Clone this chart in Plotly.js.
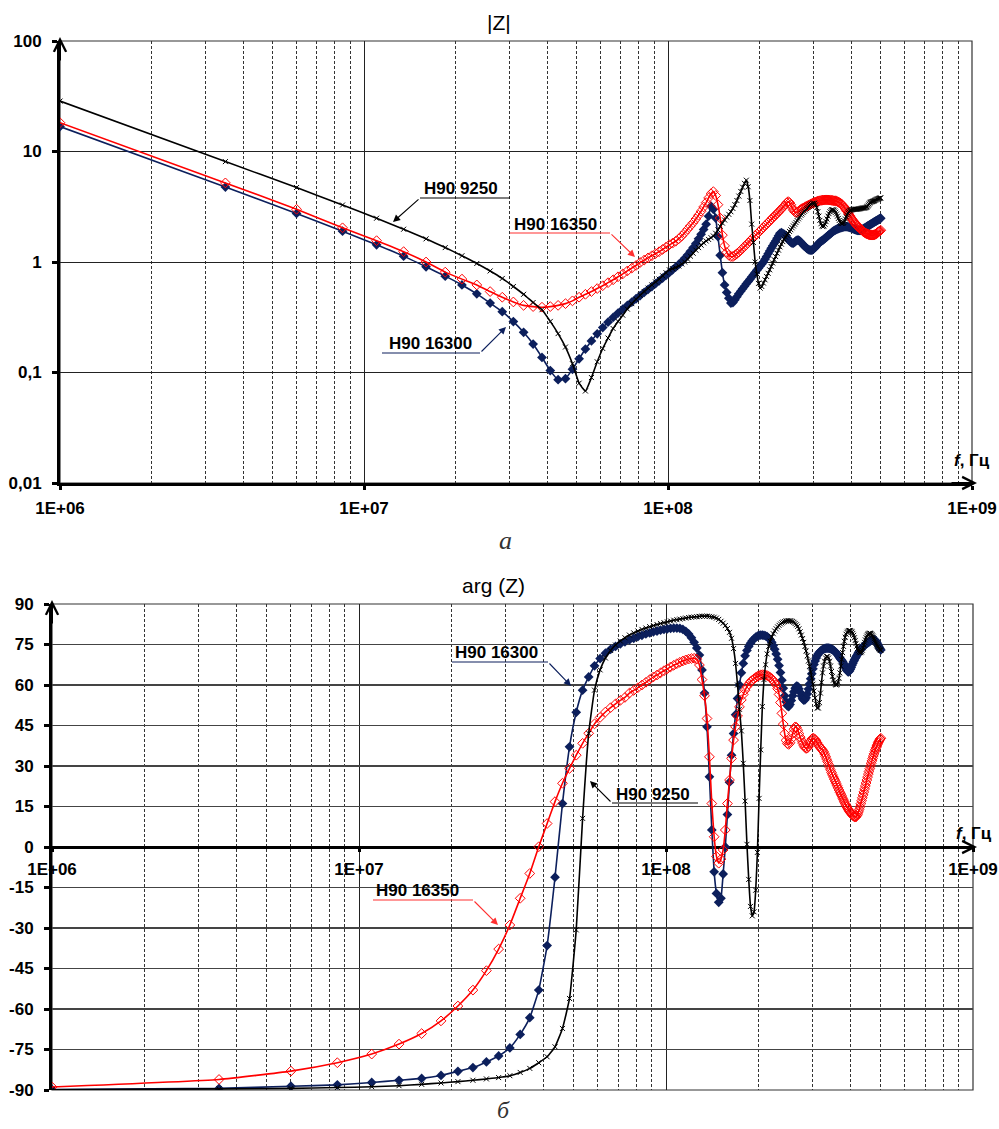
<!DOCTYPE html>
<html>
<head>
<meta charset="utf-8">
<script src="https://cdn.plot.ly/plotly-3.0.1.min.js"></script>
<style>html,body{margin:0;padding:0;background:#fff;}#chart{width:999px;height:1129px;}</style>
</head>
<body>
<div id="chart"></div>
<script>
// ---------------- DATA ----------------
const freqMHz = [
1,3.5,6,8.5,11,13.5,16,18.5,21,23.5,
26,28.5,31,33.5,36,38.5,41,43.5,46,48.5,
51,53.5,56,58.5,61,63.5,66,68.5,71,73.5,
76,78.5,81,83.5,86,88.5,91,93.5,96,98.5,
101,103.5,106,108.5,111,113.5,116,118.5,121,123.5,
126,128.5,131,133.5,136,138.5,141,143.5,146,148.5,
151,153.5,156,158.5,161,163.5,166,168.5,171,173.5,
176,178.5,181,183.5,186,188.5,191,193.5,196,198.5,
201,203.5,206,208.5,211,213.5,216,218.5,221,223.5,
226,228.5,231,233.5,236,238.5,241,243.5,246,248.5,
251,253.5,256,258.5,261,263.5,266,268.5,271,273.5,
276,278.5,281,283.5,286,288.5,291,293.5,296,298.5,
301,303.5,306,308.5,311,313.5,316,318.5,321,323.5,
326,328.5,331,333.5,336,338.5,341,343.5,346,348.5,
351,353.5,356,358.5,361,363.5,366,368.5,371,373.5,
376,378.5,381,383.5,386,388.5,391,393.5,396,398.5,
401,403.5,406,408.5,411,413.5,416,418.5,421,423.5,
426,428.5,431,433.5,436,438.5,441,443.5,446,448.5,
451,453.5,456,458.5,461,463.5,466,468.5,471,473.5,
476,478.5,481,483.5,486,488.5,491,493.5,496,498.5,
501];

const seriesNames = ['H90 9250', 'H90 16350', 'H90 16300'];

// |Z|, Ohm
const absZ_9250 = [
28.6,8.1,4.72,3.28,2.49,1.98,1.62,1.35,1.14,0.97,
0.83,0.71,0.60,0.51,0.43,0.37,0.29,0.225,0.17,0.12,
0.08,0.068,0.09,0.125,0.165,0.205,0.25,0.29,0.33,0.375,
0.42,0.46,0.5,0.54,0.58,0.62,0.66,0.7,0.75,0.8,
0.85,0.87,0.89,0.92,0.96,1.0,1.06,1.13,1.2,1.28,
1.35,1.42,1.49,1.55,1.6,1.66,1.72,1.82,1.95,2.1,
2.25,2.4,2.55,2.7,2.85,3.05,3.3,3.6,3.95,4.35,
4.75,5.15,5.5,4.8,3.6,2.2,1.5,1.0,0.78,0.64,
0.58,0.6,0.645,0.69,0.74,0.79,0.85,0.91,0.98,1.05,
1.12,1.2,1.28,1.37,1.45,1.53,1.61,1.68,1.75,1.82,
1.89,1.96,2.04,2.12,2.2,2.28,2.37,2.46,2.55,2.65,
2.72,2.8,2.88,2.96,3.04,3.12,3.2,3.27,3.33,3.38,
3.42,3.4,3.3,3.1,2.85,2.6,2.38,2.22,2.12,2.09,
2.12,2.2,2.32,2.45,2.6,2.74,2.85,2.93,2.97,2.97,
2.95,2.9,2.82,2.72,2.6,2.48,2.38,2.3,2.25,2.23,
2.24,2.28,2.35,2.45,2.56,2.67,2.77,2.85,2.9,2.94,
2.96,2.98,2.99,3.0,3.0,3.0,3.0,3.0,3.01,3.02,
3.03,3.04,3.05,3.06,3.07,3.08,3.08,3.09,3.1,3.12,
3.15,3.2,3.27,3.35,3.42,3.47,3.5,3.52,3.53,3.55,
3.57,3.6,3.63,3.66,3.69,3.71,3.73,3.75,3.77,3.79,
3.8];

const absZ_16350 = [
18.2,5.2,3.0,2.04,1.56,1.24,1.0,0.81,0.7,0.62,
0.54,0.48,0.435,0.405,0.395,0.39,0.395,0.405,0.42,0.445,
0.48,0.51,0.54,0.575,0.61,0.65,0.69,0.735,0.78,0.83,
0.88,0.93,0.99,1.04,1.09,1.14,1.19,1.24,1.3,1.36,
1.43,1.48,1.54,1.62,1.72,1.84,1.98,2.12,2.27,2.45,
2.65,2.88,3.15,3.45,3.8,4.15,4.33,4.0,3.3,2.5,
1.75,1.4,1.22,1.15,1.12,1.12,1.15,1.19,1.23,1.28,
1.33,1.38,1.43,1.49,1.55,1.61,1.67,1.73,1.79,1.85,
1.92,1.99,2.06,2.13,2.2,2.27,2.35,2.43,2.51,2.59,
2.67,2.75,2.84,2.93,3.02,3.12,3.22,3.32,3.45,3.52,
3.45,3.3,3.1,2.95,2.85,2.8,2.82,2.87,2.93,2.99,
3.04,3.08,3.12,3.16,3.2,3.24,3.28,3.32,3.36,3.4,
3.43,3.46,3.49,3.52,3.55,3.57,3.59,3.61,3.62,3.63,
3.64,3.65,3.65,3.65,3.65,3.64,3.63,3.62,3.61,3.6,
3.59,3.58,3.57,3.55,3.52,3.49,3.45,3.41,3.36,3.31,
3.24,3.17,3.1,3.02,2.95,2.87,2.79,2.71,2.63,2.56,
2.49,2.43,2.37,2.31,2.26,2.21,2.17,2.13,2.1,2.07,
2.04,2.01,1.98,1.95,1.92,1.89,1.87,1.85,1.83,1.81,
1.8,1.79,1.78,1.77,1.76,1.76,1.75,1.75,1.75,1.75,
1.76,1.77,1.78,1.8,1.82,1.84,1.86,1.88,1.9,1.92,
1.94];

const absZ_16300 = [
16.8,4.77,2.75,1.9,1.43,1.13,0.905,0.745,0.62,0.515,
0.425,0.355,0.289,0.231,0.181,0.137,0.104,0.086,0.088,0.107,
0.133,0.163,0.193,0.224,0.255,0.285,0.315,0.345,0.374,0.404,
0.434,0.465,0.497,0.53,0.565,0.6,0.637,0.675,0.715,0.757,
0.8,0.85,0.9,0.95,1.01,1.08,1.16,1.25,1.35,1.47,
1.62,1.78,1.97,2.2,2.6,3.2,3.0,2.5,1.7,1.15,
0.8,0.62,0.53,0.47,0.425,0.43,0.455,0.485,0.515,0.545,
0.573,0.603,0.634,0.665,0.698,0.733,0.767,0.805,0.843,0.88,
0.92,0.96,1.0,1.06,1.12,1.19,1.26,1.33,1.4,1.48,
1.55,1.64,1.73,1.82,1.84,1.82,1.78,1.72,1.66,1.6,
1.55,1.51,1.48,1.48,1.51,1.55,1.58,1.58,1.55,1.51,
1.47,1.43,1.39,1.36,1.33,1.31,1.29,1.28,1.28,1.29,
1.31,1.34,1.37,1.41,1.45,1.48,1.51,1.54,1.56,1.58,
1.61,1.64,1.67,1.7,1.73,1.76,1.79,1.82,1.85,1.88,
1.91,1.93,1.95,1.97,1.99,2.01,2.03,2.04,2.05,2.06,
2.07,2.08,2.09,2.09,2.09,2.09,2.08,2.07,2.06,2.05,
2.04,2.02,2.0,1.99,1.97,1.96,1.95,1.94,1.93,1.93,
1.93,1.93,1.94,1.95,1.97,1.99,2.01,2.03,2.05,2.07,
2.09,2.11,2.13,2.15,2.17,2.19,2.21,2.23,2.25,2.27,
2.29,2.31,2.33,2.35,2.37,2.39,2.41,2.43,2.45,2.47,
2.49];

// arg(Z), degrees
const argZ_9250 = [
-89.9,-89.6,-89.4,-89.1,-88.8,-88.4,-87.9,-87.4,-86.9,-86.4,
-85.9,-85.4,-84.7,-83.5,-82.0,-79.9,-77.7,-74.0,-67.2,-56.1,
-30.7,10.6,42.1,58.1,65.6,70.0,72.8,74.8,76.3,77.5,
78.5,79.3,80.0,80.6,81.1,81.6,82.0,82.4,82.8,83.1,
83.4,83.7,84.0,84.2,84.4,84.6,84.8,85.0,85.1,85.2,
85.3,85.4,85.5,85.5,85.5,85.4,85.3,85.1,84.8,84.3,
83.6,82.9,82.0,80.9,79.5,77.3,73.5,68.0,60.0,51.0,
43.0,31.0,17.0,1.0,-12.0,-22.0,-25.5,-24.0,-16.0,-2.0,
18.0,36.0,52.0,62.0,67.5,71.5,74.3,76.2,77.8,79.0,
80.0,80.8,81.5,82.1,82.6,83.0,83.3,83.5,83.7,83.8,
83.8,83.8,83.7,83.5,83.2,82.8,82.3,81.7,80.8,79.7,
78.5,77.2,75.8,74.3,72.6,70.8,68.9,66.9,64.8,62.6,
60.3,57.8,55.2,53.0,51.5,51.5,53.5,57.0,61.0,64.5,
67.0,68.8,70.0,70.5,70.5,70.0,68.8,67.0,65.0,63.2,
61.8,60.8,60.2,60.0,60.2,61.0,62.5,64.5,67.0,69.5,
72.0,74.3,76.2,77.7,78.8,79.5,79.9,80.1,80.2,80.1,
79.9,79.6,79.1,78.4,77.5,76.5,75.4,74.4,73.5,72.8,
72.3,72.0,72.0,72.3,72.9,73.8,74.8,75.8,76.7,77.5,
78.1,78.6,78.9,79.1,79.2,79.1,78.9,78.6,78.2,77.7,
77.1,76.5,75.9,75.4,74.9,74.4,74.0,73.6,73.3,73.0,
72.8];

const argZ_16350 = [
-88.9,-86.1,-83.0,-79.9,-76.7,-73.0,-69.1,-64.4,-58.9,-53.0,
-45.8,-37.8,-28.9,-19.0,-9.8,0.1,8.7,16.8,23.6,29.1,
34.0,38.4,42.1,45.6,48.0,50.0,51.6,53.0,54.3,55.4,
57.0,58.0,59.0,60.0,61.0,62.0,63.0,63.7,64.5,65.3,
66.0,66.7,67.3,67.9,68.4,68.9,69.3,69.6,69.8,69.9,
69.6,67.4,62.0,56.0,47.6,33.4,16.1,3.8,-3.5,-6.0,
-4.5,-1.1,6.3,16.1,24.8,32.8,39.6,44.5,48.5,51.9,
54.5,56.5,58.1,59.4,60.4,61.2,61.8,62.3,62.8,63.2,
63.5,63.7,63.8,63.8,63.7,63.5,63.2,62.8,62.3,61.7,
61.0,60.0,58.6,56.5,53.5,49.5,45.5,42.0,39.5,38.3,
38.0,38.6,40.0,42.0,43.6,44.5,44.3,43.3,42.0,40.7,
39.6,38.5,37.6,36.9,36.5,36.6,37.2,38.2,39.2,40.0,
40.3,40.2,39.8,39.2,38.5,37.8,37.2,36.7,36.3,35.9,
35.3,34.5,33.6,32.6,31.6,30.6,29.6,28.6,27.6,26.7,
25.9,25.1,24.3,23.5,22.7,21.9,21.1,20.3,19.6,18.9,
18.1,17.4,16.7,16.0,15.4,14.8,14.2,13.7,13.2,12.8,
12.4,12.0,11.7,11.4,11.2,11.1,11.2,11.6,12.2,13.0,
13.9,14.9,16.0,17.1,18.2,19.3,20.4,21.5,22.6,23.7,
24.8,25.9,27.0,28.0,29.0,30.0,31.0,31.9,32.8,33.7,
34.5,35.3,36.1,36.8,37.4,38.0,38.6,39.1,39.6,40.0,
40.3];

const argZ_16300 = [
-89.8,-89.4,-88.6,-88.1,-87.2,-86.4,-85.7,-84.6,-83.1,-81.7,
-79.6,-77.4,-74.4,-69.4,-63.2,-53.0,-36.5,-11.2,16.1,37.1,
49.9,58.1,63.0,67.1,69.8,71.8,73.2,74.3,75.2,76.0,
76.7,77.3,77.9,78.4,78.9,79.3,79.7,80.0,80.3,80.6,
80.8,81.0,81.1,81.1,81.0,80.6,79.9,78.9,77.5,75.8,
73.7,71.1,65.6,57.0,44.5,26.0,6.3,-9.2,-17.2,-20.5,
-19.0,-10.0,0.0,12.0,24.0,34.0,42.0,49.0,55.0,60.0,
64.5,68.0,70.8,72.8,74.3,75.5,76.4,77.1,77.7,78.1,
78.4,78.5,78.5,78.4,78.2,77.9,77.4,76.7,75.8,74.6,
73.2,71.5,69.5,67.2,64.6,61.8,58.8,56.0,53.8,52.3,
52.0,52.8,54.3,56.0,57.5,58.8,59.6,59.5,58.6,57.3,
55.9,54.9,54.4,54.5,55.3,56.7,58.5,60.4,62.3,64.2,
66.0,67.6,68.9,70.0,70.9,71.6,72.1,72.5,72.8,73.1,
73.3,73.5,73.6,73.7,73.7,73.7,73.6,73.5,73.3,73.1,
72.9,72.6,72.3,71.9,71.5,71.0,70.5,70.0,69.5,69.2,
68.7,68.1,67.4,66.7,66.0,65.4,65.0,64.9,65.2,65.8,
66.5,67.3,68.0,68.7,69.3,69.9,70.4,70.9,71.4,71.9,
72.4,72.8,73.2,73.6,73.9,74.2,74.5,74.8,75.0,75.2,
75.4,75.6,75.8,76.0,76.2,76.4,76.6,76.7,76.8,76.8,
76.8,76.7,76.5,76.1,75.7,75.2,74.7,74.2,73.7,73.3,
73.0];

const xTickVals = [1e6, 1e7, 1e8, 1e9];
const xTickText = ['1E+06', '1E+07', '1E+08', '1E+09'];
const zTickVals = [0.01, 0.1, 1, 10, 100];
const zTickText = ['0,01', '0,1', '1', '10', '100'];
const argTickVals = [-90,-75,-60,-45,-30,-15,0,15,30,45,60,75,90];
const argTickText = ['-90','-75','-60','-45','-30','-15','0','15','30','45','60','75','90'];

// ---------------- BUILD ----------------
const hz = freqMHz.map(f => f * 1e6);
const W = 999, H = 1129;
const px = x => x / W;
const py = y => 1 - y / H;

const C_BLACK = '#000000', C_BLUE = '#0c1f5c', C_RED = '#ff0000';
const FONT = 'Liberation Sans, Arial, sans-serif';

const minorVals = [];
for (let d = 6; d < 9; d++) for (let m = 2; m <= 9; m++) minorVals.push(m * Math.pow(10, d));

function styleBlue(xa, ya) {
  return {x: hz, xaxis: xa, yaxis: ya, mode: 'lines+markers', line: {color: C_BLUE, width: 1.6, shape: 'spline', smoothing: 0.4},
          marker: {symbol: 'diamond', size: 7.5, color: C_BLUE}, showlegend: false, hoverinfo: 'skip'};
}
function styleRed(xa, ya) {
  return {x: hz, xaxis: xa, yaxis: ya, mode: 'lines+markers', line: {color: C_RED, width: 1.6, shape: 'spline', smoothing: 0.4},
          marker: {symbol: 'diamond-open', size: 7.5, color: C_RED, line: {color: C_RED, width: 1}}, showlegend: false, hoverinfo: 'skip'};
}
function styleBlack(xa, ya) {
  return {x: hz, xaxis: xa, yaxis: ya, mode: 'lines+markers', line: {color: C_BLACK, width: 1.6, shape: 'spline', smoothing: 0.4},
          marker: {symbol: 'x-thin', size: 5, color: C_BLACK, line: {color: C_BLACK, width: 1}}, showlegend: false, hoverinfo: 'skip'};
}

const traces = [
  Object.assign(styleBlue('x', 'y'), {y: absZ_16300, name: seriesNames[2]}),
  Object.assign(styleRed('x', 'y'), {y: absZ_16350, name: seriesNames[1]}),
  Object.assign(styleBlack('x', 'y'), {y: absZ_9250, name: seriesNames[0]}),
  Object.assign(styleBlue('x2', 'y2'), {y: argZ_16300, name: seriesNames[2]}),
  Object.assign(styleRed('x2', 'y2'), {y: argZ_16350, name: seriesNames[1]}),
  Object.assign(styleBlack('x2', 'y2'), {y: argZ_9250, name: seriesNames[0]})
];

const tickFont = {family: FONT, size: 17, color: '#000', weight: 'bold'};
const minorGrid = {tickmode: 'array', tickvals: minorVals, showgrid: true, gridcolor: '#333', griddash: '3px,2px', gridwidth: 1, ticks: ''};

const layout = {
  width: W, height: H,
  margin: {l: 0, r: 0, t: 0, b: 0},
  paper_bgcolor: '#fff', plot_bgcolor: '#fff',
  font: {family: FONT, color: '#000'},
  showlegend: false,
  xaxis: {
    domain: [px(60), px(972)], anchor: 'y', type: 'log', range: [6, 9],
    tickmode: 'array', tickvals: xTickVals, ticktext: xTickText, tickfont: tickFont,
    showgrid: true, gridcolor: '#222', gridwidth: 1,
    minor: minorGrid,
    showline: true, linecolor: '#000', linewidth: 3,
    ticks: 'outside', ticklen: 4, tickwidth: 3, tickcolor: '#000', ticklabelstandoff: 4,
    zeroline: false, fixedrange: true
  },
  yaxis: {
    domain: [py(483), py(41)], anchor: 'x', type: 'log', range: [-2, 2],
    tickmode: 'array', tickvals: zTickVals, ticktext: zTickText, tickfont: tickFont,
    showgrid: true, gridcolor: '#222', gridwidth: 1,
    showline: true, linecolor: '#000', linewidth: 3,
    ticks: 'outside', ticklen: 5, tickwidth: 3, tickcolor: '#000', ticklabelstandoff: 7,
    zeroline: false, fixedrange: true
  },
  xaxis2: {
    domain: [px(52), px(973)], anchor: 'free', position: py(847), type: 'log', range: [6, 9],
    tickmode: 'array', tickvals: xTickVals, ticktext: xTickText, tickfont: tickFont,
    showgrid: true, gridcolor: '#222', gridwidth: 1,
    minor: minorGrid,
    showline: false,
    ticks: 'outside', ticklen: 4, tickwidth: 3, tickcolor: '#000', ticklabelstandoff: 3,
    zeroline: false, fixedrange: true
  },
  yaxis2: {
    domain: [py(1090), py(604)], anchor: 'x2', range: [-90, 90],
    tickmode: 'array', tickvals: argTickVals, ticktext: argTickText, tickfont: tickFont,
    showgrid: true, gridcolor: '#444', gridwidth: 1.2,
    zeroline: true, zerolinecolor: '#000', zerolinewidth: 3,
    showline: true, linecolor: '#000', linewidth: 3,
    ticks: 'outside', ticklen: 5, tickwidth: 3, tickcolor: '#000', ticklabelstandoff: 7,
    fixedrange: true
  },
  shapes: [],
  annotations: []
};

// plot frames
layout.shapes.push({type: 'rect', xref: 'x domain', yref: 'y domain', x0: 0, x1: 1, y0: 0, y1: 1, line: {color: '#333', width: 1.2}, layer: 'below'});
layout.shapes.push({type: 'rect', xref: 'x2 domain', yref: 'y2 domain', x0: 0, x1: 1, y0: 0, y1: 1, line: {color: '#333', width: 1.2}, layer: 'below'});

function arrow(hx, hy, tx, ty, color, width, head, size) {
  layout.annotations.push({xref: 'paper', yref: 'paper', x: px(hx), y: py(hy), ax: tx - hx, ay: ty - hy,
    text: '', showarrow: true, arrowcolor: color, arrowwidth: width, arrowhead: head, arrowsize: size, standoff: 0});
}
function label(text, x, y, opts) {
  layout.annotations.push(Object.assign({xref: 'paper', yref: 'paper', x: px(x), y: py(y), text: text, showarrow: false,
    xanchor: 'left', yanchor: 'middle', font: {family: FONT, size: 17, color: '#000'}}, opts || {}));
}
function callout(text, tx, ty, ux0, ux1, uy, hx, hy, color, tailLeft) {
  label('<b>' + text + '</b>', tx, ty);
  layout.shapes.push({type: 'line', xref: 'paper', yref: 'paper', x0: px(ux0), x1: px(ux1), y0: py(uy), y1: py(uy), line: {color: color, width: 1.2}});
  const tX = tailLeft ? ux0 : ux1;
  arrow(hx, hy, tX, uy, color, 1.1, 2, 1.3);
}

// axis arrows
arrow(60, 37, 60, 62, '#000', 2, 5, 1.2);
arrow(977, 483, 950, 483, '#000', 2, 5, 1.2);
arrow(52, 600, 52, 625, '#000', 2, 5, 1.2);
arrow(977, 847, 950, 847, '#000', 2, 5, 1.2);

// titles
label('|Z|', 499, 23, {xanchor: 'center', font: {family: FONT, size: 21, color: '#000'}});
label('arg (Z)', 493, 585, {xanchor: 'center', font: {family: FONT, size: 21, color: '#000'}});

// axis unit labels
label('<b><i>f</i>, Гц</b>', 972, 461, {xanchor: 'center', font: {family: FONT, size: 17, color: '#000'}});
label('<b><i>f</i>, Гц</b>', 974, 833, {xanchor: 'center', font: {family: FONT, size: 17, color: '#000'}});

// captions
label('<i>а</i>', 505, 540, {xanchor: 'center', font: {family: 'Liberation Serif, serif', size: 26, color: '#333'}});
label('<i>б</i>', 504, 1110, {xanchor: 'center', font: {family: 'Liberation Serif, serif', size: 24, color: '#333'}});

// callouts, top chart
callout(seriesNames[0], 422, 189, 420, 510, 198, 393, 222, C_BLACK, true);
callout(seriesNames[1], 512, 224, 510, 610, 233, 635, 257, '#ff3030', false);
callout(seriesNames[2], 387, 343, 382, 480, 353, 506, 327, C_BLUE, false);
// callouts, bottom chart
callout(seriesNames[2], 453, 652, 452, 548, 662, 571, 686, C_BLUE, false);
callout(seriesNames[0], 614, 794, 612, 698, 803, 590, 781, C_BLACK, true);
callout(seriesNames[1], 374, 890, 373, 473, 900, 498, 925, '#ff3030', false);

Plotly.newPlot('chart', traces, layout, {staticPlot: true, displayModeBar: false});
</script>
</body>
</html>
